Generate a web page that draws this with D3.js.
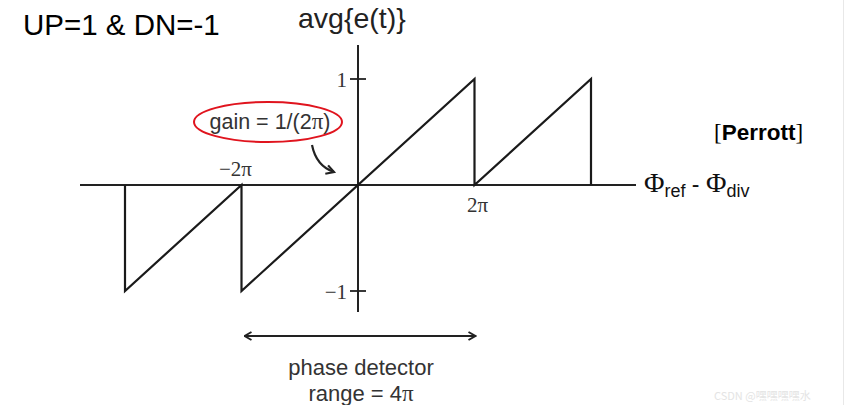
<!DOCTYPE html>
<html><head><meta charset="utf-8">
<script src="https://cdn.jsdelivr.net/npm/d3@7"></script>
<style>body{margin:0;background:#fff}svg{display:block}</style>
</head><body>
<script>
const PI = Math.PI;
// sawtooth vertices (phase error in radians, average error)
const phaseX = [-4*PI, -4*PI, -2*PI, -2*PI, 2*PI, 2*PI, 4*PI, 4*PI];
const avgErr = [0, -1, 0, -1, 1, 0, 1, 0];
const xTickVals = [-2*PI, 2*PI];
const xTickLabels = ["\u22122\u03c0", "2\u03c0"];
const yTickVals = [1, -1];
const yTickLabels = ["1", "\u22121"];
const rangeSpan = [-2*PI, 2*PI];

const W = 845, H = 405;
const svg = d3.select("body").append("svg").attr("width", W).attr("height", H);
const x = d3.scaleLinear().domain([-2*PI, 2*PI]).range([241.5, 474.5]);
const y = d3.scaleLinear().domain([-1, 1]).range([291, 79]);
const serif = "Liberation Serif, Times New Roman, serif";
const sans = "Liberation Sans, Arial, sans-serif";

// axes
svg.append("line").attr("x1", 80).attr("x2", 636).attr("y1", y(0)).attr("y2", y(0))
  .attr("stroke", "#222").attr("stroke-width", 2);
svg.append("line").attr("x1", x(0)).attr("x2", x(0)).attr("y1", 45).attr("y2", 312)
  .attr("stroke", "#222").attr("stroke-width", 2);
// y ticks
yTickVals.forEach((v, i) => {
  svg.append("line").attr("x1", x(0) - 8).attr("x2", x(0) + 8).attr("y1", y(v)).attr("y2", y(v))
    .attr("stroke", "#222").attr("stroke-width", 1.8);
  svg.append("text").attr("x", x(0) - 11).attr("y", y(v) + 8).attr("text-anchor", "end")
    .attr("font-family", serif).attr("font-size", 21).attr("fill", "#333")
    .text(yTickLabels[i]);
});
// x tick labels
svg.append("text").attr("x", x(xTickVals[0]) - 6).attr("y", y(0) - 9).attr("text-anchor", "middle")
  .attr("font-family", serif).attr("font-size", 21).attr("fill", "#333")
  .text(xTickLabels[0]);
svg.append("text").attr("x", x(xTickVals[1]) + 3).attr("y", y(0) + 27).attr("text-anchor", "middle")
  .attr("font-family", serif).attr("font-size", 21).attr("fill", "#333")
  .text(xTickLabels[1]);

// waveform
const pts = phaseX.map((p, i) => [p, avgErr[i]]);
svg.append("path").attr("d", d3.line().x(d => x(d[0])).y(d => y(d[1]))(pts))
  .attr("fill", "none").attr("stroke", "#1a1a1a").attr("stroke-width", 2.2).attr("stroke-linejoin", "miter");

// titles
svg.append("text").attr("x", 23).attr("y", 35).attr("font-family", sans)
  .attr("font-size", 29.5).attr("fill", "#000").text("UP=1 & DN=-1");
svg.append("text").attr("x", 298).attr("y", 28).attr("font-family", sans)
  .attr("font-size", 28.5).attr("fill", "#222").text("avg{e(t)}");

// x axis label
const xl = svg.append("text").attr("x", 644).attr("y", 192).attr("font-family", sans)
  .attr("font-size", 23).attr("fill", "#111");
xl.append("tspan").attr("font-family", serif).attr("font-size", 28).text("\u03a6");
xl.append("tspan").attr("font-size", 18).attr("dy", 5).text("ref");
xl.append("tspan").attr("dy", -5).text(" - ");
xl.append("tspan").attr("font-family", serif).attr("font-size", 28).text("\u03a6");
xl.append("tspan").attr("font-size", 18).attr("dy", 5).text("div");

// gain annotation
svg.append("ellipse").attr("cx", 268).attr("cy", 122).attr("rx", 74).attr("ry", 20)
  .attr("fill", "none").attr("stroke", "#e0141e").attr("stroke-width", 2);
const g = svg.append("text").attr("x", 270).attr("y", 129).attr("text-anchor", "middle")
  .attr("font-family", sans).attr("font-size", 21.5).attr("fill", "#333");
g.append("tspan").text("gain = 1/(2");
g.append("tspan").attr("font-family", serif).attr("font-size", 23).text("\u03c0");
g.append("tspan").text(")");
svg.append("defs").append("marker").attr("id", "ah").attr("viewBox", "0 0 10 10").attr("refX", 8).attr("refY", 5)
  .attr("markerWidth", 5).attr("markerHeight", 5).attr("orient", "auto")
  .append("path").attr("d", "M1,1 L8,5 L1,9").attr("fill", "none").attr("stroke", "#222").attr("stroke-width", 2);
svg.append("path").attr("d", "M312,145 C315,160 322,168 334,172")
  .attr("fill", "none").attr("stroke", "#222").attr("stroke-width", 2.2).attr("marker-end", "url(#ah)");

// range arrow
svg.append("defs").append("marker").attr("id", "ch").attr("viewBox", "0 0 10 10").attr("refX", 9).attr("refY", 5)
  .attr("markerWidth", 5).attr("markerHeight", 5).attr("orient", "auto-start-reverse")
  .append("path").attr("d", "M2,1 L9,5 L2,9").attr("fill", "none").attr("stroke", "#222").attr("stroke-width", 2);
svg.append("line").attr("x1", x(rangeSpan[0]) + 3).attr("x2", x(rangeSpan[1]) + 1).attr("y1", 336).attr("y2", 336)
  .attr("stroke", "#222").attr("stroke-width", 2)
  .attr("marker-start", "url(#ch)").attr("marker-end", "url(#ch)");
svg.append("text").attr("x", 361).attr("y", 375).attr("text-anchor", "middle")
  .attr("font-family", sans).attr("font-size", 22).attr("fill", "#333")
  .text("phase detector");
const r = svg.append("text").attr("x", 361).attr("y", 401).attr("text-anchor", "middle")
  .attr("font-family", sans).attr("font-size", 22).attr("fill", "#333");
r.append("tspan").text("range = 4");
r.append("tspan").attr("font-family", serif).attr("font-size", 23).text("\u03c0");

// citation
const c = svg.append("text").attr("x", 714).attr("y", 140).attr("font-size", 23).attr("fill", "#000");
c.append("tspan").attr("font-family", serif).text("[");
c.append("tspan").attr("font-family", sans).attr("font-weight", "bold").attr("font-size", 22.5).text("Perrott");
c.append("tspan").attr("font-family", serif).text("]");

// faint watermark & right edge
svg.append("text").attr("x", 714).attr("y", 400).attr("font-family", "Noto Sans CJK SC, sans-serif")
  .attr("font-size", 11).attr("fill", "#e4e4e4").text("CSDN @嘿嘿嘿嘿水");
svg.append("line").attr("x1", 843.5).attr("x2", 843.5).attr("y1", 0).attr("y2", H).attr("stroke", "#e8e8e8");
</script>
</body></html>
